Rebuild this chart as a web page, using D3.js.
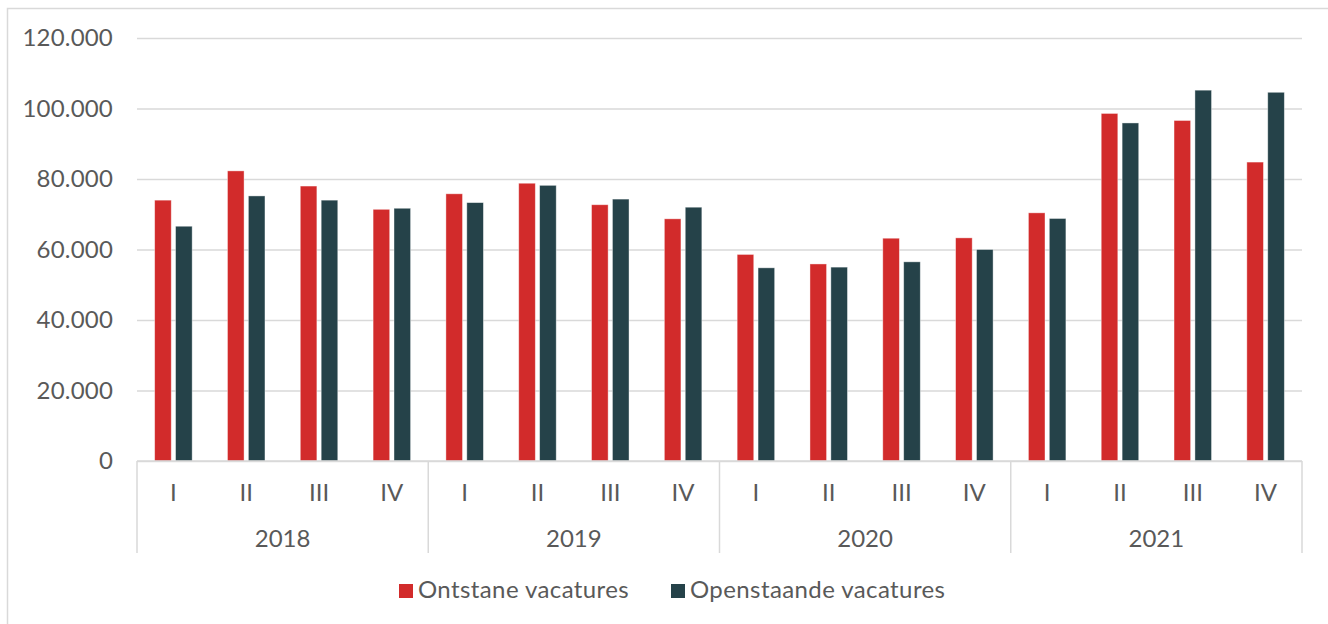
<!DOCTYPE html>
<html>
<head>
<meta charset="utf-8">
<script src="https://cdn.jsdelivr.net/npm/d3@7"></script>
<style>
  body { margin: 0; background: #fff; }
  text { font-family: Lato, "Open Sans", sans-serif; fill: #595959; }
</style>
</head>
<body>
<div id="chart"></div>
<script>
// data
const years = ["2018", "2019", "2020", "2021"];
const quarters = ["I", "II", "III", "IV"];
const seriesNames = ["Ontstane vacatures", "Openstaande vacatures"];
const seriesColors = ["#d22b2b", "#254249"];
const ontstane = [
  74000, 82300, 78000, 71400,
  75800, 78800, 72700, 68700,
  58600, 55900, 63200, 63300,
  70400, 98600, 96600, 84800,
];
const openstaande = [
  66600, 75200, 74000, 71700,
  73300, 78200, 74300, 72000,
  54800, 55000, 56500, 60000,
  68800, 95900, 105200, 104600,
];
const yTicks = [0, 20000, 40000, 60000, 80000, 100000, 120000];

const width = 1328, height = 624;
const margin = { top: 38, right: 26, bottom: 163, left: 137 };
const innerW = width - margin.left - margin.right;
const innerH = height - margin.top - margin.bottom;

const nl = d3.formatLocale({ decimal: ",", thousands: ".", grouping: [3], currency: ["€", ""] });
const fmt = nl.format(",");

const rows = [];
years.forEach((y, i) => {
  quarters.forEach((q, j) => {
    const k = i * 4 + j;
    rows.push({ key: y + "-" + q, year: y, q: q, values: [ontstane[k], openstaande[k]] });
  });
});

const svg = d3.select("#chart").append("svg")
  .attr("width", width)
  .attr("height", height);

// outer frame
svg.append("rect")
  .attr("x", 7.5).attr("y", 8.5)
  .attr("width", width).attr("height", height)
  .attr("fill", "none")
  .attr("stroke", "#d9d9d9")
  .attr("stroke-width", 1.5);

const g = svg.append("g").attr("transform", `translate(${margin.left},${margin.top})`);

const x = d3.scaleBand().domain(rows.map(d => d.key)).range([0, innerW]);
const group = 37.5;
const xs = d3.scaleBand().domain([0, 1])
  .range([(x.bandwidth() - group) / 2, (x.bandwidth() + group) / 2])
  .paddingInner(0.206);
const y = d3.scaleLinear().domain([0, 120000]).range([innerH, 0]);

// gridlines + y labels
const yAxis = g.append("g")
  .call(d3.axisLeft(y).tickValues(yTicks).tickFormat(fmt).tickSize(-innerW).tickPadding(24));
yAxis.select(".domain").remove();
yAxis.selectAll("line").attr("stroke", "#d9d9d9").attr("stroke-width", 1.5);
yAxis.selectAll("text").style("font-size", "24px").style("letter-spacing", "0.2px").attr("fill", "#595959");

// bars
g.selectAll(".cat")
  .data(rows)
  .join("g")
  .attr("class", "cat")
  .attr("transform", d => `translate(${x(d.key)},0)`)
  .selectAll("rect")
  .data(d => d.values.map((v, i) => ({ v, i })))
  .join("rect")
  .attr("x", d => xs(d.i))
  .attr("width", xs.bandwidth())
  .attr("y", d => y(d.v))
  .attr("height", d => innerH - y(d.v))
  .attr("fill", d => seriesColors[d.i])
  .attr("stroke", "#fff")
  .attr("stroke-opacity", 0.5)
  .attr("stroke-width", 0.8);

// category axis
g.append("line")
  .attr("x1", 0).attr("x2", innerW)
  .attr("y1", innerH).attr("y2", innerH)
  .attr("stroke", "#d9d9d9").attr("stroke-width", 1.5);

const bounds = years.map(yr => x(yr + "-I")).concat([innerW]);
g.selectAll(".sep")
  .data(bounds)
  .join("line")
  .attr("class", "sep")
  .attr("x1", d => d).attr("x2", d => d)
  .attr("y1", innerH).attr("y2", innerH + 92)
  .attr("stroke", "#d9d9d9").attr("stroke-width", 1.5);

g.selectAll(".qlab")
  .data(rows)
  .join("text")
  .attr("class", "qlab")
  .attr("x", d => x(d.key) + x.bandwidth() / 2)
  .attr("y", innerH + 40)
  .attr("text-anchor", "middle")
  .style("font-size", "24px")
  .text(d => d.q);

g.selectAll(".ylab")
  .data(years)
  .join("text")
  .attr("class", "ylab")
  .attr("x", (d, i) => (bounds[i] + bounds[i + 1]) / 2)
  .attr("y", innerH + 86)
  .attr("text-anchor", "middle")
  .style("font-size", "24px")
  .text(d => d);

// legend
const legend = svg.append("g").attr("transform", "translate(399,584)");
const legX = [0, 272];
seriesNames.forEach((name, i) => {
  legend.append("rect")
    .attr("x", legX[i]).attr("y", 0)
    .attr("width", 14).attr("height", 14)
    .attr("fill", seriesColors[i]);
  legend.append("text")
    .attr("x", legX[i] + 19).attr("y", 14)
    .style("font-size", "24px")
    .style("letter-spacing", "0.4px")
    .text(name);
});
</script>
</body>
</html>
